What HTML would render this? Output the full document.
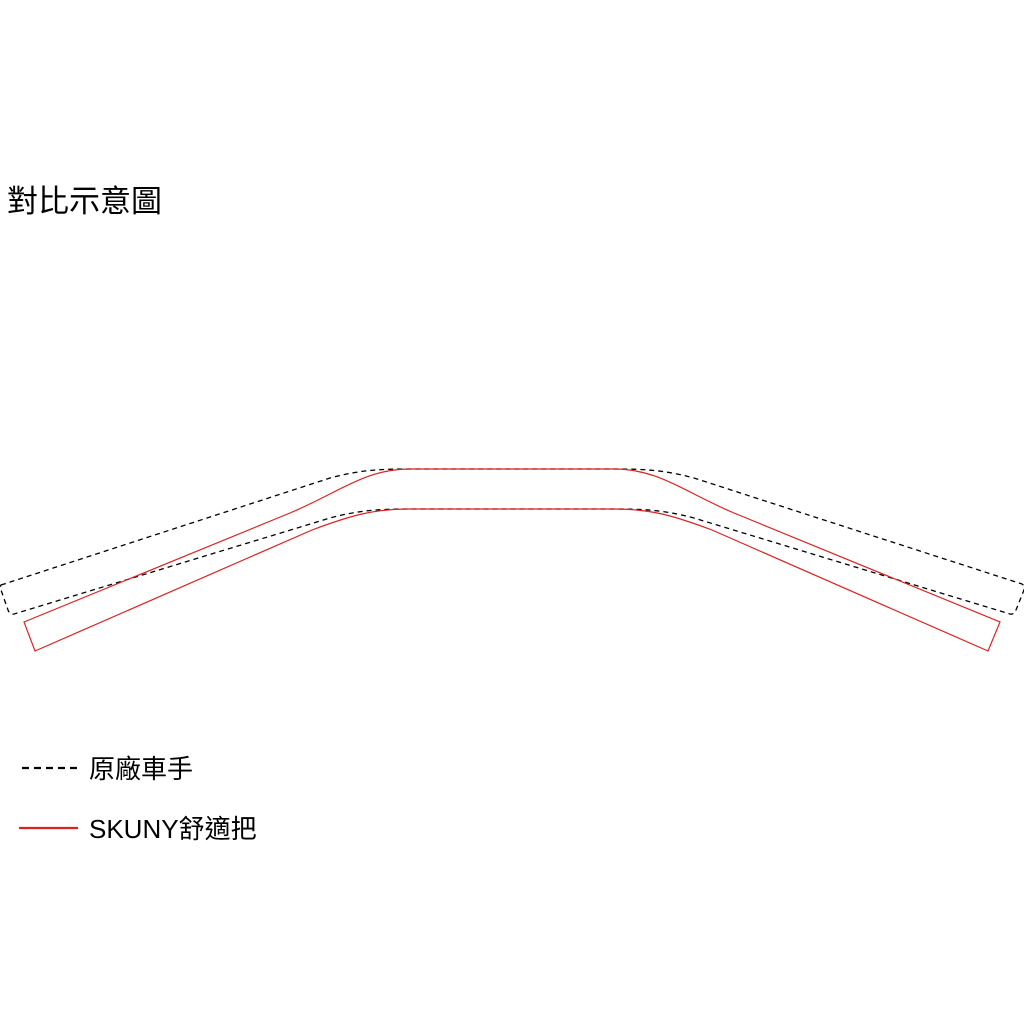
<!DOCTYPE html>
<html><head><meta charset="utf-8"><style>
html,body{margin:0;padding:0;background:#fff;width:1024px;height:1024px;overflow:hidden}
svg{display:block}
text{font-family:"Liberation Sans","Noto Sans CJK TC",sans-serif;fill:#000}
</style></head><body>
<svg width="1024" height="1024" viewBox="0 0 1024 1024" xmlns="http://www.w3.org/2000/svg">
<text x="7" y="212" font-size="31">對比示意圖</text>
<path d="M1,585 L330,478 C360,470 380,469 410,469 L614,469 C644,469 664,470 694,478 L1022,584 Q1025,586 1024,590 L1016,610 Q1014,615 1010,614 L694,518 C664,510 644,509 614,509 L410,509 C380,509 360,510 330,518 L14,614 Q10,615 8,610 L1,590 Q0,586 1,585 Z" fill="none" stroke="#000" stroke-width="1.3" stroke-dasharray="5,4"/>
<path d="M24,622 L290,513 C340,492 365,469 410,469 L614,469 C659,469 684,492 734,513 L1000,622 L988,651 L712,530 C672,515 650,509 614,509 L410,509 C374,509 352,515 312,530 L35,651 Z" fill="none" stroke="#d22" stroke-width="1.2"/>
<line x1="22" y1="768" x2="78" y2="768" stroke="#000" stroke-width="2.2" stroke-dasharray="7,5"/>
<text x="89" y="778" font-size="26">原廠車手</text>
<line x1="19" y1="828" x2="78" y2="828" stroke="#d22" stroke-width="2.2"/>
<text x="89" y="838" font-size="26">SKUNY舒適把</text>
</svg>
</body></html>
